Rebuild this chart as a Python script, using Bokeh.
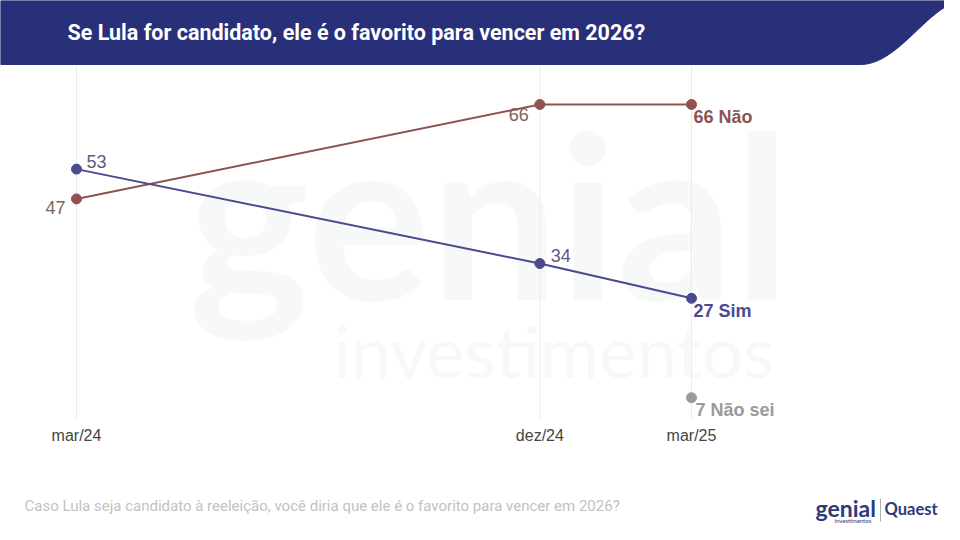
import numpy as np
import pandas as pd
from bokeh.plotting import figure
from bokeh.models import ColumnDataSource, Range1d
from bokeh.core.properties import value
from bokeh.embed import file_html
from bokeh.resources import INLINE

# ---------------- data ----------------
TITLE = "Se Lula for candidato, ele é o favorito para vencer em 2026?"
NOTE = "Caso Lula seja candidato à reeleição, você diria que ele é o favorito para vencer em 2026?"
dates = ["2024-03-01", "2024-12-01", "2025-03-01"]
tick_labels = ["mar/24", "dez/24", "mar/25"]
nao = [47, 66, 66]
sim = [53, 34, 27]
nao_sei_dates = ["2025-03-01"]
nao_sei = [7]
series_names = ["Não", "Sim", "Não sei"]

# ---------------- colours ----------------
NAVY = "#29307a"
C_NAO = "#8e5252"
C_SIM = "#4a4a8e"
C_NS = "#9a9a9a"
WM = "#f7f8f8"


def to_ms(ds):
    return [pd.Timestamp(d).value // 10**6 for d in ds]


xd = to_ms(dates)
x_ns = to_ms(nao_sei_dates)

# ---------------- layout (pixels) ----------------
W, H, M = 944, 524, 0
X0_PAGE, X1_PAGE = 76, 691
Y_REF_PAGE, V_REF, PX_PER_UNIT = 104, 66, 4.97
mpp = (xd[-1] - xd[0]) / (X1_PAGE - X0_PAGE)
x_start = xd[0] - (X0_PAGE - M) * mpp
x_end = x_start + W * mpp
v_top = V_REF + (Y_REF_PAGE - M) / PX_PER_UNIT
v_bot = v_top - H / PX_PER_UNIT


def px(X):
    return x_start + (X - M) * mpp


def py(Y):
    return v_top - (Y - M) / PX_PER_UNIT


p = figure(width=W, height=H, x_range=Range1d(x_start, x_end),
           y_range=Range1d(v_bot, v_top), x_axis_type=None, y_axis_type=None,
           toolbar_location=None, output_backend="svg", min_border=0,
           outline_line_color=None, background_fill_color="white",
           border_fill_color="white")

# ---------------- header band ----------------
t = np.linspace(0, 1, 40)
P = [(965, 0), (930, 0), (900, 64), (860, 64)]
bx = (1 - t) ** 3 * P[0][0] + 3 * (1 - t) ** 2 * t * P[1][0] + 3 * (1 - t) * t ** 2 * P[2][0] + t ** 3 * P[3][0]
by = (1 - t) ** 3 * P[0][1] + 3 * (1 - t) ** 2 * t * P[1][1] + 3 * (1 - t) * t ** 2 * P[2][1] + t ** 3 * P[3][1]
hx = [0] + list(bx) + [0]
hy = [0] + list(by) + [64]
p.patch([px(v) for v in hx], [py(v) for v in hy], fill_color=NAVY, line_color=NAVY)
p.text(x=[px(67)], y=[py(32)], text=[TITLE], text_font=value("Roboto"),
       text_font_style="bold", text_font_size="21.5px", text_color="white",
       text_baseline="middle", text_align="left")

# ---------------- watermark ----------------
p.text(x=[px(188)], y=[py(211)], text=["genial"], text_font=value("Lato"),
       text_font_style="bold", text_font_size="229px", text_color=WM,
       text_baseline="middle", text_align="left")
p.text(x=[px(333)], y=[py(349)], text=["investimentos"], text_font=value("Lato"),
       text_font_size="72px", text_color=WM,
       text_baseline="middle", text_align="left")

# ---------------- grid lines ----------------
p.segment(x0=xd, y0=[py(66)] * len(xd), x1=xd, y1=[py(420)] * len(xd),
          line_color="#ebebeb", line_width=1)

# ---------------- series ----------------
src_nao = ColumnDataSource(dict(x=xd, y=nao))
src_sim = ColumnDataSource(dict(x=xd, y=sim))
src_ns = ColumnDataSource(dict(x=x_ns, y=nao_sei))

p.line("x", "y", source=src_nao, line_color=C_NAO, line_width=2)
p.line("x", "y", source=src_sim, line_color=C_SIM, line_width=2)
p.scatter("x", "y", source=src_nao, size=10, fill_color=C_NAO, line_color=C_NAO)
p.scatter("x", "y", source=src_sim, size=10, fill_color=C_SIM, line_color=C_SIM)
p.scatter("x", "y", source=src_ns, size=10, fill_color=C_NS, line_color=C_NS)

# value labels (intermediate points)
lab_font = value("Liberation Sans")
p.text(x=xd[:-1], y=nao[:-1], text=[str(v) for v in nao[:-1]],
       x_offset=[-11, -11], y_offset=[9, 10], text_align="right",
       text_baseline="middle", text_font=lab_font, text_font_size="18px",
       text_color="#7d6561")
p.text(x=xd[:-1], y=sim[:-1], text=[str(v) for v in sim[:-1]],
       x_offset=[10, 11], y_offset=[-8, -8], text_align="left",
       text_baseline="middle", text_font=lab_font, text_font_size="18px",
       text_color="#5b5b80")

# end labels
p.text(x=[xd[-1]], y=[nao[-1]], text=[f"{nao[-1]} {series_names[0]}"],
       x_offset=2, y_offset=12, text_align="left", text_baseline="middle",
       text_font=lab_font, text_font_style="bold", text_font_size="18px",
       text_color=C_NAO)
p.text(x=[xd[-1]], y=[sim[-1]], text=[f"{sim[-1]} {series_names[1]}"],
       x_offset=2, y_offset=13, text_align="left", text_baseline="middle",
       text_font=lab_font, text_font_style="bold", text_font_size="18px",
       text_color=C_SIM)
p.text(x=x_ns, y=nao_sei, text=[f"{nao_sei[0]} {series_names[2]}"],
       x_offset=4, y_offset=12, text_align="left", text_baseline="middle",
       text_font=lab_font, text_font_style="bold", text_font_size="18px",
       text_color=C_NS)

# x tick labels
p.text(x=xd, y=[py(435)] * len(xd), text=tick_labels, text_align="center",
       text_baseline="middle", text_font=lab_font, text_font_size="16px",
       text_color="#444444")

# ---------------- footer ----------------
p.text(x=[px(24)], y=[py(505)], text=[NOTE], text_font=value("Roboto"),
       text_font_size="15px", text_color="#c2c2c2", text_baseline="middle",
       text_align="left")

# logos
p.text(x=[px(815)], y=[py(507)], text=["genial"], text_font=value("Lato"),
       text_font_style="bold", text_font_size="23px", text_color="#2d3a7c",
       text_baseline="middle", text_align="left")
p.text(x=[px(834)], y=[py(520)], text=["investimentos"], text_font=value("Lato"),
       text_font_size="6px", text_color="#2d3a7c",
       text_baseline="middle", text_align="left")
p.segment(x0=[px(880)], y0=[py(498)], x1=[px(880)], y1=[py(521)],
          line_color="#b0b0b0", line_width=1)
p.text(x=[px(884)], y=[py(508)], text=["Quaest"], text_font=value("Lato"),
       text_font_style="bold", text_font_size="16.5px", text_color="#2d3a7c",
       text_baseline="middle", text_align="left")

open("out.html", "w").write(file_html(p, INLINE))
